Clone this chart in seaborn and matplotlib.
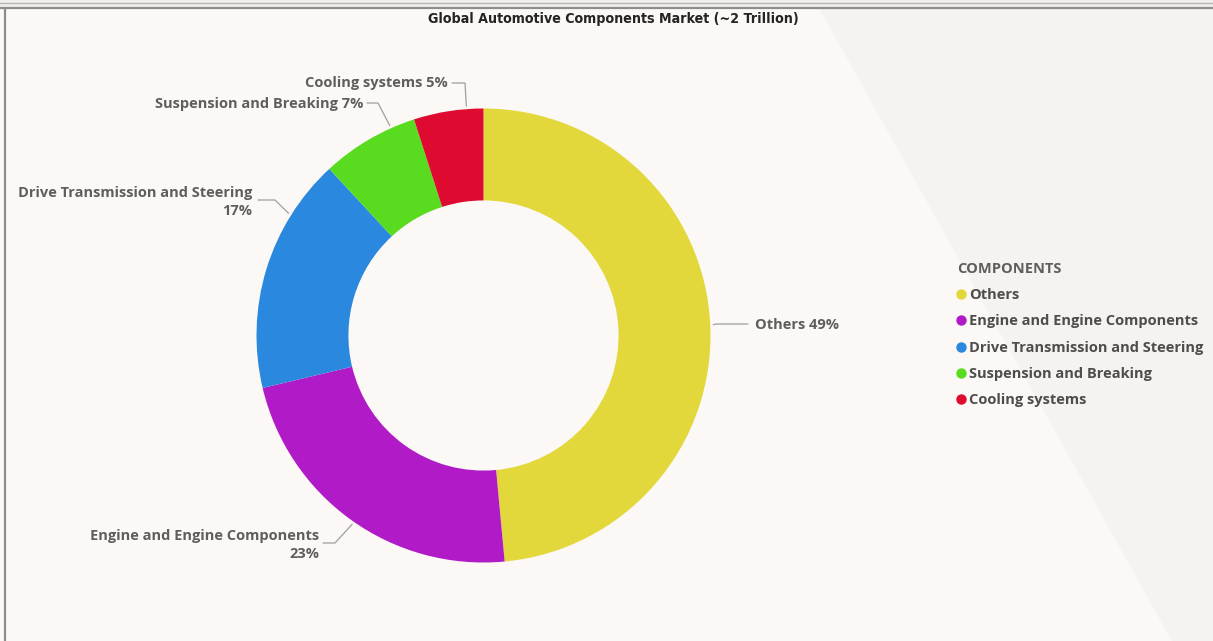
import numpy as np
import matplotlib
matplotlib.use("Agg")
import matplotlib.pyplot as plt
import seaborn as sns
from matplotlib.lines import Line2D
from matplotlib.patches import Polygon, Rectangle

# ---------------- data ----------------
categories = ["Others", "Engine and Engine Components", "Drive Transmission and Steering",
              "Suspension and Breaking", "Cooling systems"]
shares = [49, 23, 17, 7, 5]
pct_labels = ["49%", "23%", "17%", "7%", "5%"]
colors = ["#E3D83B", "#B01BC7", "#2A88DE", "#59DB20", "#DE0A2F"]
title = "Global Automotive Components Market (~2 Trillion)"
legend_title = "COMPONENTS"

sns.set_style("white")
plt.rcParams["font.family"] = ["Open Sans", "DejaVu Sans"]

W, H = 1213, 641
fig = plt.figure(figsize=(W / 100, H / 100), dpi=100)
fig.patch.set_facecolor("#FBF8F5")
ax = fig.add_axes([0, 0, 1, 1])

def Y(py):
    return H - py

# background diagonal shading and frame
ax.add_patch(Polygon([(819, Y(8)), (W, Y(8)), (W, Y(H)), (1172, Y(H))],
                     closed=True, fc="#F5F2EF", ec="none", zorder=0))
ax.add_patch(Rectangle((0, Y(8)), W, 8, fc="#F0EFEE", ec="none", zorder=1))
ax.plot([0, W], [Y(2.5), Y(2.5)], color="#B8B6B4", lw=1.0, zorder=2)
ax.plot([0, W], [Y(8), Y(8)], color="#8E8C8A", lw=1.6, zorder=2)
ax.plot([5, 5], [Y(8), 0], color="#8E8C8A", lw=1.6, zorder=2)

# donut
cx, cy, R = 483.5, Y(335.5), 227
wedges, _ = ax.pie(shares, colors=colors, startangle=90, counterclock=False,
                   center=(cx, cy), radius=R, frame=True,
                   wedgeprops=dict(width=R * 0.405, edgecolor="none", linewidth=0))
ax.set_xlim(0, W)
ax.set_ylim(0, H)
ax.set_aspect("equal")
ax.axis("off")

FS = 10.5
WT = "bold"
# leader lines + labels (layout only)
anchor_frac = [0.5, 0.49, 0.75, 0.75, 0.76]
elbows = [(716, 324), (335, 543), (275, 200), (378, 103), (465, 83)]
line_ends = [(748, 324), (323, 543), (258, 200), (367, 103), (452, 83)]
text_pos = [(755, 325), (319, 545), (252, 202), (363, 104), (448, 83)]
two_line = [False, True, True, False, False]
lab_color = "#605E5C"
for i, w in enumerate(wedges):
    t1, t2 = w.theta1, w.theta2
    ang = np.deg2rad(t2 - anchor_frac[i] * (t2 - t1))
    ax_, ay_ = cx + (R + 3) * np.cos(ang), cy + (R + 3) * np.sin(ang)
    ex, ey = elbows[i]
    lx, ly = line_ends[i]
    ax.plot([ax_, ex, lx], [ay_, Y(ey), Y(ly)], color="#A19F9D", lw=0.9, zorder=3)
    if two_line[i]:
        txt = f"{categories[i]}\n{pct_labels[i]}"
    else:
        txt = f"{categories[i]} {pct_labels[i]}"
    tx, ty = text_pos[i]
    ha = "left" if i == 0 else "right"
    ax.text(tx, Y(ty), txt, ha=ha, va="center", fontsize=FS, fontweight=WT,
            color=lab_color, linespacing=1.3, zorder=4)

# title
fig.text(613 / W, 1 - 19 / H, title, ha="center", va="center", fontsize=10.2,
         fontweight="bold", color="#252423", family=["DejaVu Sans"],
         fontstretch="condensed")

# legend
handles = [Line2D([0], [0], marker="o", linestyle="none", markersize=7.5,
                  markerfacecolor=c, markeredgecolor="none") for c in colors]
leg = ax.legend(handles, categories, title=legend_title, loc="upper left",
                bbox_to_anchor=(957 / W, 1 - 262 / H), bbox_transform=fig.transFigure,
                frameon=False, fontsize=FS, title_fontsize=FS, handlelength=0.55,
                handletextpad=0.25, labelspacing=0.84, borderaxespad=0, borderpad=0)
leg._legend_box.align = "left"
leg.get_title().set_color("#605E5C")
leg.get_title().set_fontweight(WT)
for t in leg.get_texts():
    t.set_color("#4F4D4B")
    t.set_fontweight(WT)

fig.savefig("out.png", dpi=100, facecolor=fig.get_facecolor())
